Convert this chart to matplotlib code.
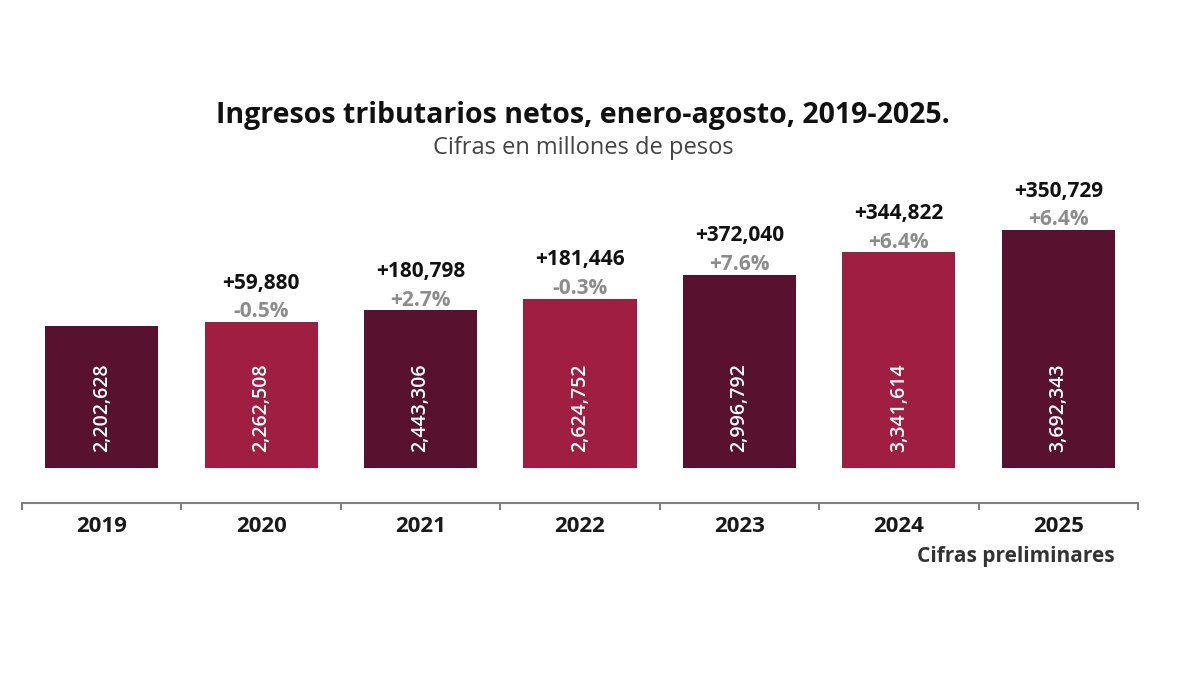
import numpy as np
import matplotlib.pyplot as plt


plt.rcParams["font.family"] = ["Open Sans", "DejaVu Sans"]

# Data (millones de pesos)
years = ["2019", "2020", "2021", "2022", "2023", "2024", "2025"]
ingresos = [2202628, 2262508, 2443306, 2624752, 2996792, 3341614, 3692343]
diferencia = [None, "+59,880", "+180,798", "+181,446", "+372,040", "+344,822", "+350,729"]
variacion = [None, "-0.5%", "+2.7%", "-0.3%", "+7.6%", "+6.4%", "+6.4%"]

dark = "#58112E"
light = "#A01E41"
colors = [dark if i % 2 == 0 else light for i in range(len(years))]

fig = plt.figure(figsize=(12, 6.78), dpi=100)
ax = fig.add_axes([0.0183, 0.2581, 0.93, 0.4764])

x = np.arange(len(years))
bars = ax.bar(x, ingresos, width=0.71, color=colors)

ax.set_xlim(-0.5, len(years) - 0.5)
ax.set_ylim(-0.543e6, 4.465e6)

for spine in ["top", "right", "left"]:
    ax.spines[spine].set_visible(False)
ax.spines["bottom"].set_color("#7f7f7f")
ax.spines["bottom"].set_linewidth(1.5)
ax.set_yticks([])

# boundary ticks on the axis line, year labels between them
ax.set_xticks(np.arange(-0.5, len(years), 1.0))
ax.set_xticklabels([])
ax.tick_params(axis="x", which="major", length=5, width=1.5, color="#7f7f7f")
ax.set_xticks(x, minor=True)
ax.set_xticklabels(years, minor=True, fontsize=16, fontweight="bold", color="#1a1a1a")
ax.tick_params(axis="x", which="minor", length=0, pad=9)

# values inside bars
for xi, v in zip(x, ingresos):
    ax.text(xi, 0.93e6, f"{v:,}", rotation=90, ha="center", va="center",
            color="white", fontsize=14, fontweight="semibold")

# change labels above bars
for xi, v, d, p in zip(x, ingresos, diferencia, variacion):
    if d is None:
        continue
    ax.annotate(p, xy=(xi, v), xytext=(0, 3.5), textcoords="offset points",
                ha="center", va="baseline", fontsize=15, fontweight="bold",
                color="#8c8c8c", annotation_clip=False)
    ax.annotate(d, xy=(xi, v), xytext=(0, 24), textcoords="offset points",
                ha="center", va="baseline", fontsize=15, fontweight="bold",
                color="#111111", annotation_clip=False)

fig.text(0.486, 0.829, "Ingresos tributarios netos, enero-agosto, 2019-2025.",
         ha="center", va="center", fontsize=20.5, fontweight="bold", color="#111111")
fig.text(0.486, 0.781, "Cifras en millones de pesos",
         ha="center", va="center", fontsize=17, color="#444444")
fig.text(0.929, 0.1785, "Cifras preliminares", ha="right", va="center",
         fontsize=15, fontweight="bold", color="#333333")

fig.savefig("out.png", dpi=100, facecolor="white")
